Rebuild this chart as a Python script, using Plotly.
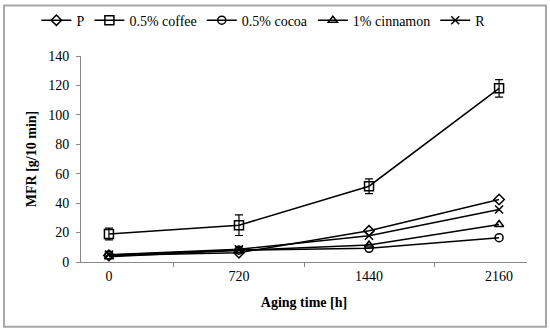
import plotly.graph_objects as go

categories = ["0", "720", "1440", "2160"]
series_names = ["P", "0.5% coffee", "0.5% cocoa", "1% cinnamon", "R"]
p_vals = [4.5, 6.3, 21.2, 42.5]
coffee_vals = [19, 25, 51.5, 118]
coffee_err = [4, 7, 5, 6]
cocoa_vals = [4.8, 8.0, 9.3, 16.5]
cinnamon_vals = [3.5, 8.0, 11.5, 25.5]
r_vals = [5.0, 8.6, 17.8, 35.7]

y_ticks = [0, 20, 40, 60, 80, 100, 120, 140]

symbols = ["diamond-open", "square-open", "circle-open", "triangle-up-open", "x-thin-open"]
values = [p_vals, coffee_vals, cocoa_vals, cinnamon_vals, r_vals]
errors = [None, coffee_err, None, None, None]
sizes = [8, 9, 8, 8, 8]

FF = "Times New Roman, Liberation Serif, serif"
fig = go.Figure()
for name, vals, sym, err, sz in zip(series_names, values, symbols, errors, sizes):
    fig.add_trace(go.Scatter(
        x=categories, y=vals, name=name, mode="lines+markers",
        line=dict(color="black", width=1.5),
        marker=dict(symbol=sym, size=sz, color="black",
                    line=dict(color="black", width=1.5)),
        error_y=dict(type="data", array=err, visible=err is not None,
                     color="black", thickness=1.2, width=4),
    ))

fig.update_layout(
    width=550, height=333,
    margin=dict(l=81, r=23, t=55.5, b=71, autoexpand=False),
    paper_bgcolor="white", plot_bgcolor="white",
    font=dict(family=FF, size=13, color="black"),
    showlegend=True,
    legend=dict(orientation="h", x=-0.1, xanchor="left", y=1.172, yanchor="middle",
                font=dict(family=FF, size=14, color="black"), itemwidth=30,
                bgcolor="rgba(0,0,0,0)"),
    xaxis=dict(type="category", tickson="boundaries", ticks="outside", ticklen=4,
               tickcolor="#888", showline=True, linecolor="#888", linewidth=1,
               showgrid=False, zeroline=False, automargin=False,
               ticklabelstandoff=1,
               tickfont=dict(family=FF, size=14, color="black"),
               title=dict(text="<b>Aging time [h]</b>", standoff=14,
                          font=dict(family=FF, size=14, color="black"))),
    yaxis=dict(range=[0, 140], tickvals=y_ticks, ticks="outside", ticklen=4,
               tickcolor="#888", showline=True, linecolor="#888", linewidth=1,
               showgrid=False, zeroline=False, automargin=False,
               ticklabelstandoff=4,
               tickfont=dict(family=FF, size=14, color="black"),
               title=dict(text="<b>MFR [g/10 min]</b>", standoff=8,
                          font=dict(family=FF, size=14, color="black"))),
    shapes=[dict(type="rect", xref="paper", yref="paper",
                 x0=-0.1726, x1=1.0426, y0=-0.3148, y1=1.2446,
                 line=dict(color="#a6a6a6", width=2), fillcolor="rgba(0,0,0,0)")],
)

fig.write_html("out.html", config={"displayModeBar": False},
               post_script="document.body.style.margin='0';document.body.style.overflow='hidden';")
